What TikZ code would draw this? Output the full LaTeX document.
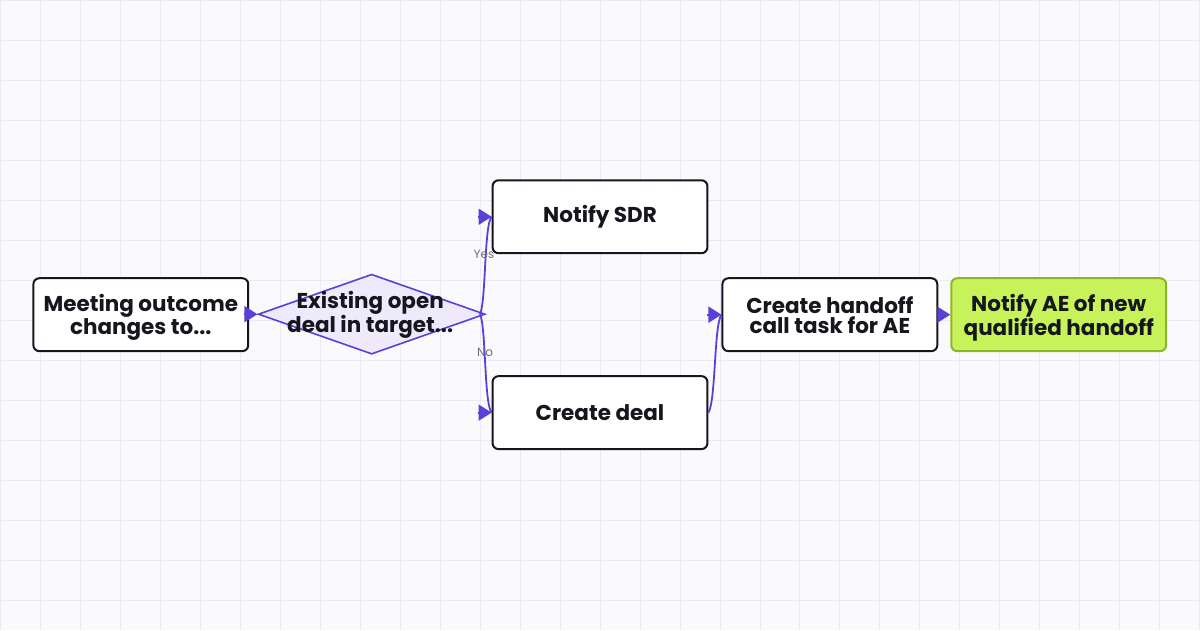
\documentclass[tikz,border=0pt]{standalone}
\usepackage{fontspec}
\setmainfont{Poppins}
\usetikzlibrary{shapes.geometric,arrows.meta}
\definecolor{grid}{HTML}{ECEAF6}
\definecolor{bg}{HTML}{FAFAFD}
\definecolor{pur}{HTML}{5B3FD9}
\definecolor{purfill}{HTML}{EEEAFB}
\definecolor{lime}{HTML}{C8F25A}
\definecolor{limeline}{HTML}{8DB52A}
\definecolor{ink}{HTML}{16161E}
\definecolor{labc}{HTML}{6E6E78}
\begin{document}
\begin{tikzpicture}[x=1pt,y=-1pt,
 txt/.style={align=center,font=\bfseries\fontsize{21.5}{20}\selectfont,text=ink,inner sep=0pt},
 box/.style={txt,draw=ink,line width=2pt,rounded corners=6pt,fill=white,minimum width=215pt,minimum height=73pt},
 con/.style={draw=pur,line width=1.8pt},
 tip/.style={draw=pur,line width=1.8pt,-{Triangle[length=13pt,width=16pt]}},
 lab/.style={font=\fontsize{12}{12}\selectfont,text=labc}]
\fill[bg] (0,0) rectangle (1200,630);
\foreach \i in {0,40,...,1200} \draw[grid,line width=0.8pt] (\i,0) -- (\i,630);
\foreach \j in {0,40,...,600} \draw[grid,line width=0.8pt] (0,\j) -- (1200,\j);
\useasboundingbox (0,0) rectangle (1200,630);
\node[box,text depth=-1.5pt] (m) at (140.5,314.5) {Meeting outcome\\changes to...};
\node[draw=pur,line width=1.6pt,fill=purfill,diamond,aspect=2.84,minimum width=227pt,minimum height=80pt,inner sep=0pt] (d) at (371.5,314) {};
\node[txt] (dt) at (370,314.5) {Existing open\\deal in target...};
\node[box] (s) at (600,216.5) {Notify SDR};
\node[box] (c) at (600,412.5) {Create deal};
\node[box,text depth=-1.5pt] (h) at (830,314.5) {Create handoff\\call task for AE};
\node[box,fill=lime,draw=limeline,text depth=-1.5pt] (a) at (1059,314.5) {Notify AE of new\\qualified handoff};
\draw[tip] ([xshift=-13pt]d.west) -- (d.west);
\coordinate (dr) at (480,314);
\draw[con] (dr) .. controls (486,300) and (484,225) .. (s.west);
\draw[tip] ([xshift=-14pt]s.west) -- (s.west);
\draw[con] (dr) .. controls (486,328) and (484,403) .. (c.west);
\draw[tip] ([xshift=-14pt]c.west) -- (c.west);
\node[lab] at (484,254) {Yes};
\node[lab] at (485,352) {No};
\draw[con] (c.east) .. controls (716,400) and (714,325) .. (h.west);
\draw[tip] ([xshift=-14pt]h.west) -- (h.west);
\draw[tip] ([xshift=-12pt]a.west) -- (a.west);
\end{tikzpicture}
\end{document}
